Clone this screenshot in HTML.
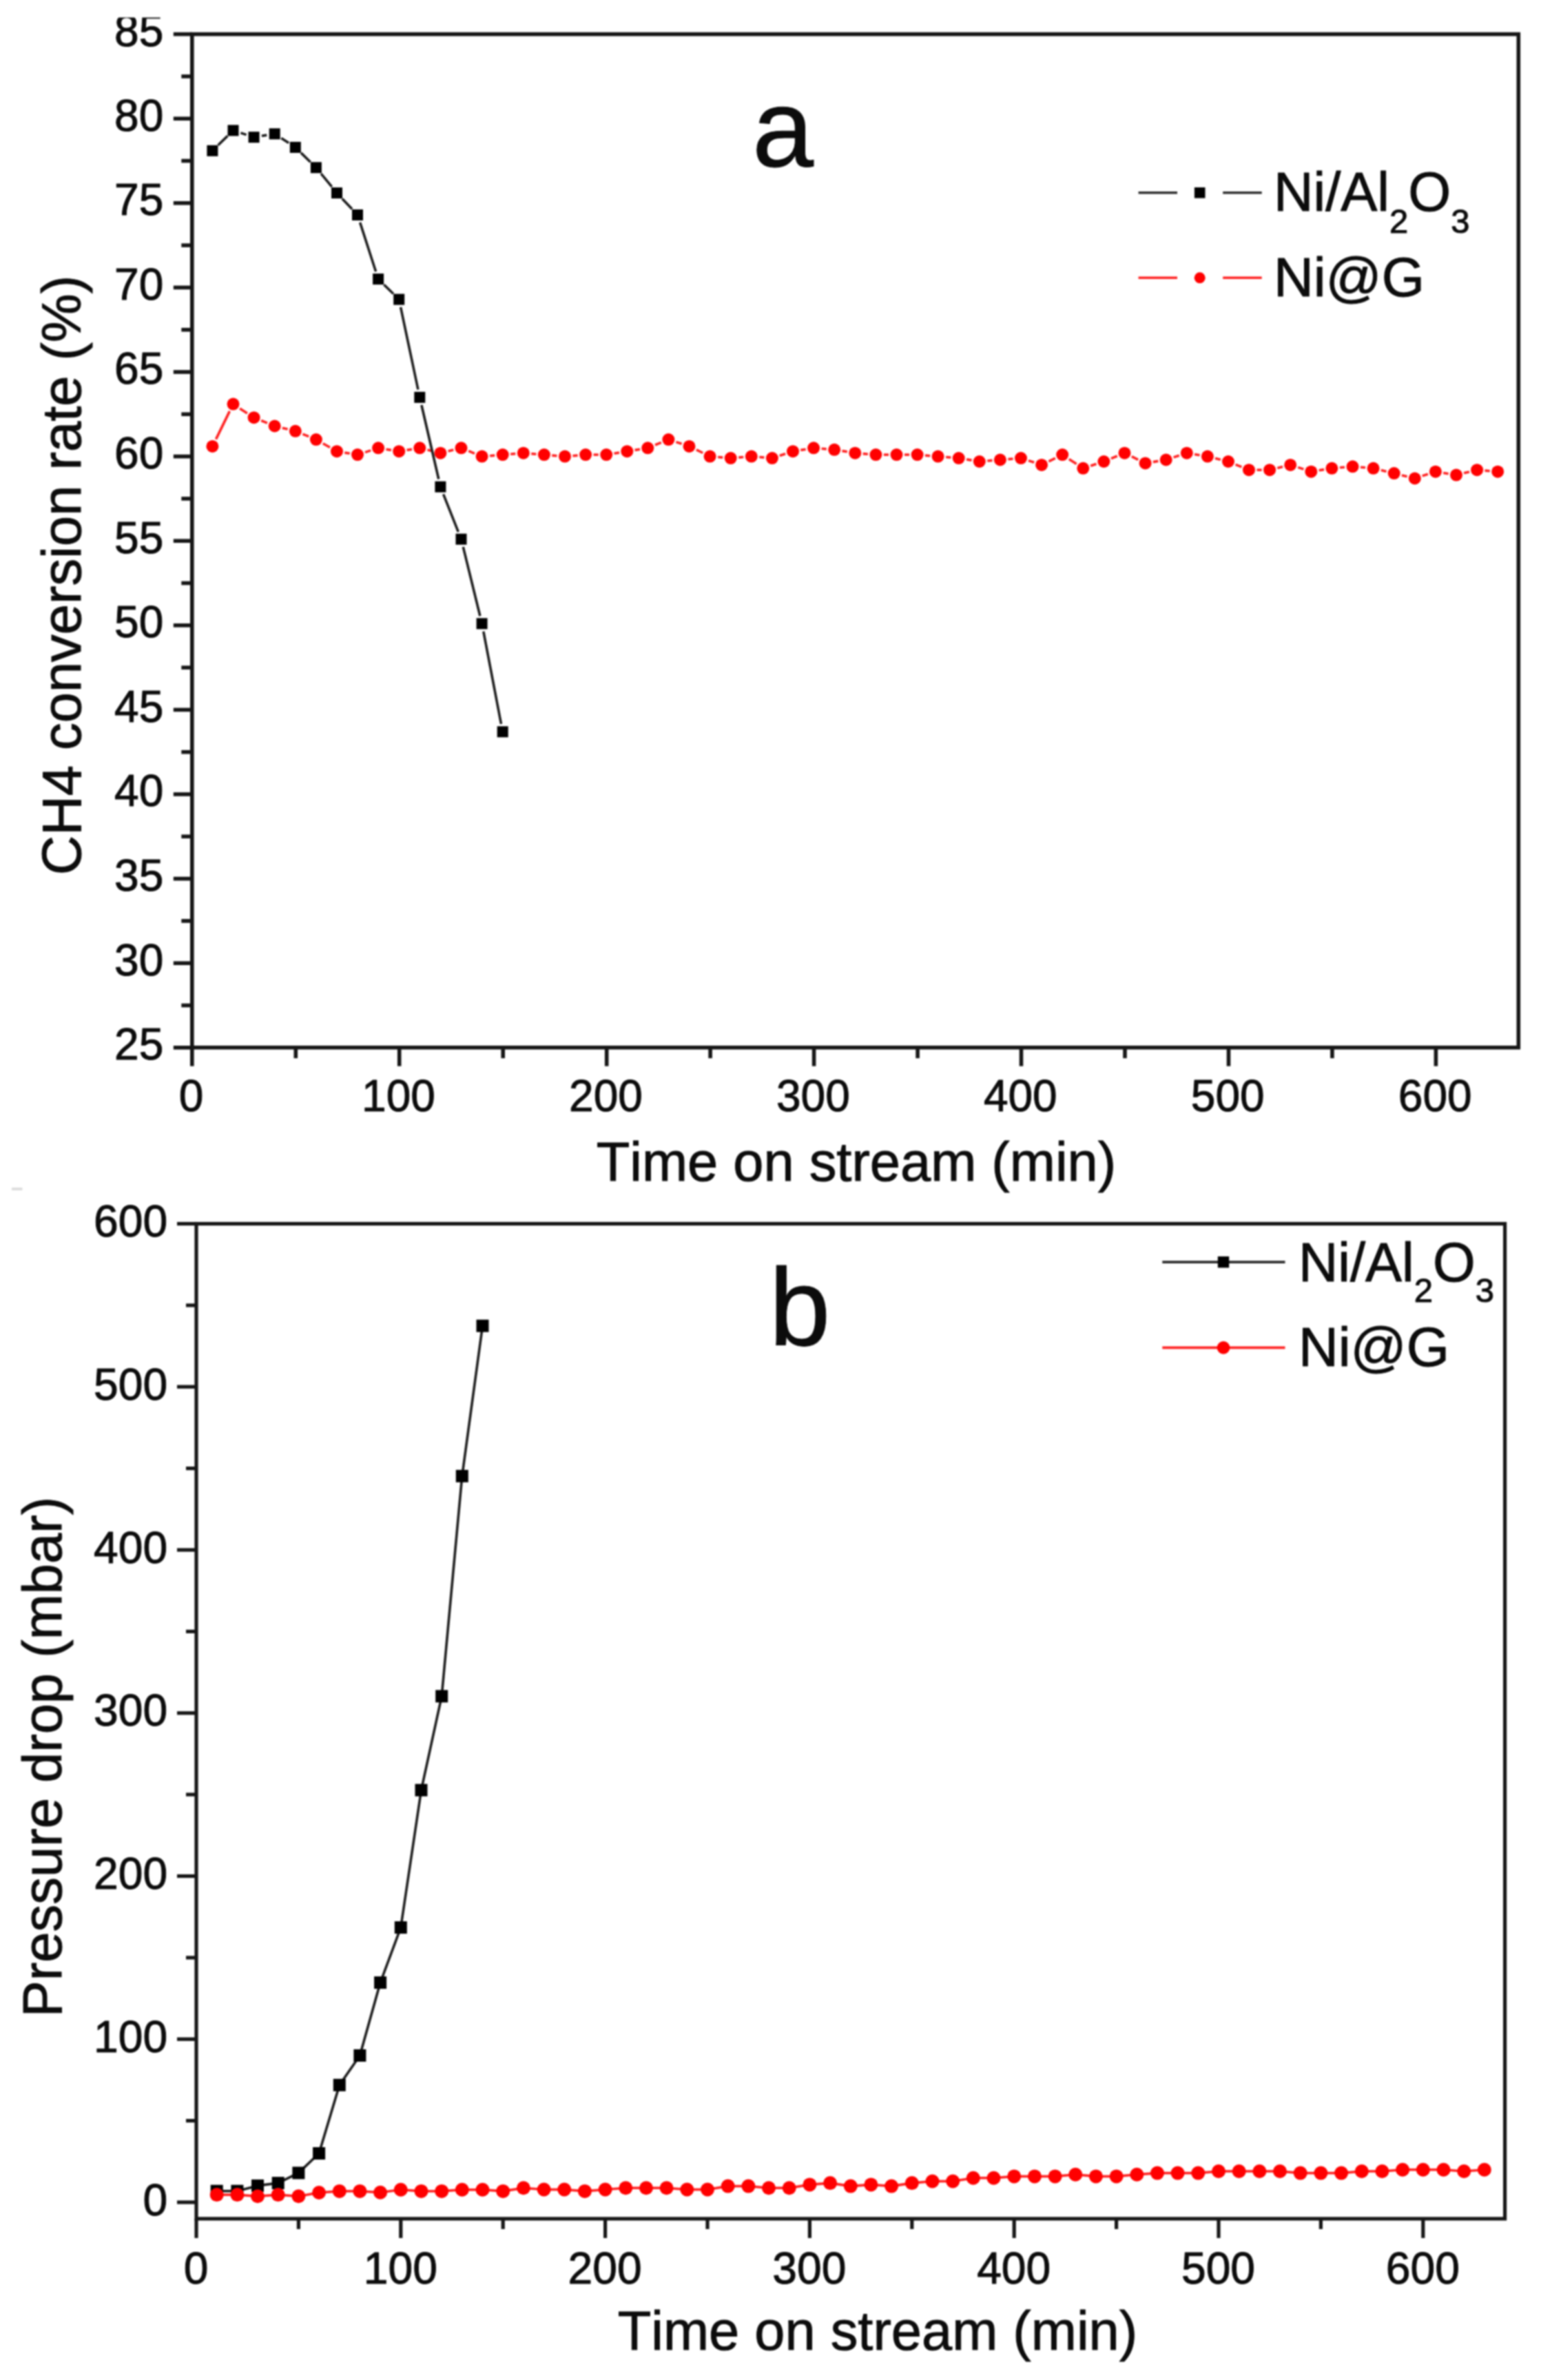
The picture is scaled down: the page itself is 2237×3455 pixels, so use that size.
<!DOCTYPE html>
<html lang="en">
<head>
<meta charset="utf-8">
<title>Catalyst stability: CH4 conversion and pressure drop</title>
<style>
html,body{margin:0;padding:0;background:#ffffff;}
body{width:2237px;height:3455px;overflow:hidden;}
svg{display:block;filter:blur(1.1px);font-family:'Liberation Sans', Arial, sans-serif;fill:#0c0c0c;}
text{font-kerning:none;stroke:#0c0c0c;stroke-width:1px;stroke-linejoin:round;}
</style>
</head>
<body>
<svg width="2237" height="3455" viewBox="0 0 2237 3455">
<rect x="0" y="0" width="2237" height="3455" fill="#ffffff"/>
<g id="figure">
<rect x="278.8" y="49.6" width="1925.5" height="1471.1" fill="none" stroke="#161616" stroke-width="5.6"/>
<line x1="251.8" y1="1520.8" x2="278.8" y2="1520.8" stroke="#161616" stroke-width="5.6" />
<text x="237.3" y="1538.1" font-size="64" text-anchor="end" >25</text>
<line x1="263.3" y1="1459.5" x2="278.8" y2="1459.5" stroke="#161616" stroke-width="5.6" />
<line x1="251.8" y1="1398.2" x2="278.8" y2="1398.2" stroke="#161616" stroke-width="5.6" />
<text x="237.3" y="1415.5" font-size="64" text-anchor="end" >30</text>
<line x1="263.3" y1="1336.9" x2="278.8" y2="1336.9" stroke="#161616" stroke-width="5.6" />
<line x1="251.8" y1="1275.6" x2="278.8" y2="1275.6" stroke="#161616" stroke-width="5.6" />
<text x="237.3" y="1292.9" font-size="64" text-anchor="end" >35</text>
<line x1="263.3" y1="1214.3" x2="278.8" y2="1214.3" stroke="#161616" stroke-width="5.6" />
<line x1="251.8" y1="1153.0" x2="278.8" y2="1153.0" stroke="#161616" stroke-width="5.6" />
<text x="237.3" y="1170.3" font-size="64" text-anchor="end" >40</text>
<line x1="263.3" y1="1091.7" x2="278.8" y2="1091.7" stroke="#161616" stroke-width="5.6" />
<line x1="251.8" y1="1030.4" x2="278.8" y2="1030.4" stroke="#161616" stroke-width="5.6" />
<text x="237.3" y="1047.7" font-size="64" text-anchor="end" >45</text>
<line x1="263.3" y1="969.1" x2="278.8" y2="969.1" stroke="#161616" stroke-width="5.6" />
<line x1="251.8" y1="907.8" x2="278.8" y2="907.8" stroke="#161616" stroke-width="5.6" />
<text x="237.3" y="925.1" font-size="64" text-anchor="end" >50</text>
<line x1="263.3" y1="846.5" x2="278.8" y2="846.5" stroke="#161616" stroke-width="5.6" />
<line x1="251.8" y1="785.2" x2="278.8" y2="785.2" stroke="#161616" stroke-width="5.6" />
<text x="237.3" y="802.5" font-size="64" text-anchor="end" >55</text>
<line x1="263.3" y1="723.9" x2="278.8" y2="723.9" stroke="#161616" stroke-width="5.6" />
<line x1="251.8" y1="662.6" x2="278.8" y2="662.6" stroke="#161616" stroke-width="5.6" />
<text x="237.3" y="679.9" font-size="64" text-anchor="end" >60</text>
<line x1="263.3" y1="601.3" x2="278.8" y2="601.3" stroke="#161616" stroke-width="5.6" />
<line x1="251.8" y1="540.0" x2="278.8" y2="540.0" stroke="#161616" stroke-width="5.6" />
<text x="237.3" y="557.3" font-size="64" text-anchor="end" >65</text>
<line x1="263.3" y1="478.7" x2="278.8" y2="478.7" stroke="#161616" stroke-width="5.6" />
<line x1="251.8" y1="417.4" x2="278.8" y2="417.4" stroke="#161616" stroke-width="5.6" />
<text x="237.3" y="434.7" font-size="64" text-anchor="end" >70</text>
<line x1="263.3" y1="356.1" x2="278.8" y2="356.1" stroke="#161616" stroke-width="5.6" />
<line x1="251.8" y1="294.8" x2="278.8" y2="294.8" stroke="#161616" stroke-width="5.6" />
<text x="237.3" y="312.1" font-size="64" text-anchor="end" >75</text>
<line x1="263.3" y1="233.5" x2="278.8" y2="233.5" stroke="#161616" stroke-width="5.6" />
<line x1="251.8" y1="172.2" x2="278.8" y2="172.2" stroke="#161616" stroke-width="5.6" />
<text x="237.3" y="189.5" font-size="64" text-anchor="end" >80</text>
<line x1="263.3" y1="110.9" x2="278.8" y2="110.9" stroke="#161616" stroke-width="5.6" />
<line x1="251.8" y1="49.6" x2="278.8" y2="49.6" stroke="#161616" stroke-width="5.6" />
<text x="237.3" y="66.9" font-size="64" text-anchor="end" >85</text>
<line x1="278.8" y1="1520.7" x2="278.8" y2="1547.7" stroke="#161616" stroke-width="5.6" />
<text x="277.6" y="1613.0" font-size="64" text-anchor="middle" >0</text>
<line x1="429.3" y1="1520.7" x2="429.3" y2="1536.2" stroke="#161616" stroke-width="5.6" />
<line x1="579.7" y1="1520.7" x2="579.7" y2="1547.7" stroke="#161616" stroke-width="5.6" />
<text x="578.5" y="1613.0" font-size="64" text-anchor="middle" >100</text>
<line x1="730.2" y1="1520.7" x2="730.2" y2="1536.2" stroke="#161616" stroke-width="5.6" />
<line x1="880.7" y1="1520.7" x2="880.7" y2="1547.7" stroke="#161616" stroke-width="5.6" />
<text x="879.5" y="1613.0" font-size="64" text-anchor="middle" >200</text>
<line x1="1031.1" y1="1520.7" x2="1031.1" y2="1536.2" stroke="#161616" stroke-width="5.6" />
<line x1="1181.6" y1="1520.7" x2="1181.6" y2="1547.7" stroke="#161616" stroke-width="5.6" />
<text x="1180.4" y="1613.0" font-size="64" text-anchor="middle" >300</text>
<line x1="1332.1" y1="1520.7" x2="1332.1" y2="1536.2" stroke="#161616" stroke-width="5.6" />
<line x1="1482.5" y1="1520.7" x2="1482.5" y2="1547.7" stroke="#161616" stroke-width="5.6" />
<text x="1481.3" y="1613.0" font-size="64" text-anchor="middle" >400</text>
<line x1="1633.0" y1="1520.7" x2="1633.0" y2="1536.2" stroke="#161616" stroke-width="5.6" />
<line x1="1783.5" y1="1520.7" x2="1783.5" y2="1547.7" stroke="#161616" stroke-width="5.6" />
<text x="1782.2" y="1613.0" font-size="64" text-anchor="middle" >500</text>
<line x1="1933.9" y1="1520.7" x2="1933.9" y2="1536.2" stroke="#161616" stroke-width="5.6" />
<line x1="2084.4" y1="1520.7" x2="2084.4" y2="1547.7" stroke="#161616" stroke-width="5.6" />
<text x="2083.2" y="1613.0" font-size="64" text-anchor="middle" >600</text>
<rect x="140" y="0" width="105" height="25.4" fill="#ffffff"/>
<text x="1243.0" y="1714.0" font-size="79.4" text-anchor="middle" >Time on stream (min)</text>
<text transform="translate(116.8,835) rotate(-90)" font-size="79.5" text-anchor="middle">CH4 conversion rate (%)</text>
<text x="1136.5" y="240.5" font-size="160" text-anchor="middle" >a</text>
<line x1="313.5" y1="637.6" x2="333.4" y2="596.9" stroke="#ff2020" stroke-width="3.6" />
<line x1="348.1" y1="592.9" x2="358.9" y2="599.9" stroke="#ff2020" stroke-width="3.6" />
<line x1="379.2" y1="610.5" x2="388.0" y2="614.1" stroke="#ff2020" stroke-width="3.6" />
<line x1="409.8" y1="621.2" x2="417.6" y2="623.1" stroke="#ff2020" stroke-width="3.6" />
<line x1="439.4" y1="630.2" x2="448.2" y2="633.7" stroke="#ff2020" stroke-width="3.6" />
<line x1="468.8" y1="643.8" x2="479.0" y2="649.5" stroke="#ff2020" stroke-width="3.6" />
<line x1="500.3" y1="657.1" x2="507.7" y2="658.3" stroke="#ff2020" stroke-width="3.6" />
<line x1="530.0" y1="656.6" x2="538.2" y2="653.9" stroke="#ff2020" stroke-width="3.6" />
<line x1="560.5" y1="652.2" x2="567.9" y2="653.4" stroke="#ff2020" stroke-width="3.6" />
<line x1="590.6" y1="653.4" x2="598.0" y2="652.2" stroke="#ff2020" stroke-width="3.6" />
<line x1="620.5" y1="653.1" x2="628.2" y2="655.0" stroke="#ff2020" stroke-width="3.6" />
<line x1="650.6" y1="655.0" x2="658.3" y2="653.1" stroke="#ff2020" stroke-width="3.6" />
<line x1="680.2" y1="654.7" x2="689.0" y2="658.3" stroke="#ff2020" stroke-width="3.6" />
<line x1="711.1" y1="661.7" x2="718.2" y2="661.1" stroke="#ff2020" stroke-width="3.6" />
<line x1="741.2" y1="659.2" x2="748.3" y2="658.6" stroke="#ff2020" stroke-width="3.6" />
<line x1="771.3" y1="658.6" x2="778.4" y2="659.2" stroke="#ff2020" stroke-width="3.6" />
<line x1="801.3" y1="661.1" x2="808.5" y2="661.7" stroke="#ff2020" stroke-width="3.6" />
<line x1="831.4" y1="661.7" x2="838.6" y2="661.1" stroke="#ff2020" stroke-width="3.6" />
<line x1="861.6" y1="660.1" x2="868.7" y2="660.1" stroke="#ff2020" stroke-width="3.6" />
<line x1="891.5" y1="658.3" x2="898.9" y2="657.1" stroke="#ff2020" stroke-width="3.6" />
<line x1="921.6" y1="653.4" x2="929.0" y2="652.2" stroke="#ff2020" stroke-width="3.6" />
<line x1="951.0" y1="646.0" x2="959.8" y2="642.4" stroke="#ff2020" stroke-width="3.6" />
<line x1="981.4" y1="641.6" x2="989.6" y2="644.3" stroke="#ff2020" stroke-width="3.6" />
<line x1="1010.9" y1="652.9" x2="1020.3" y2="657.5" stroke="#ff2020" stroke-width="3.6" />
<line x1="1042.1" y1="663.5" x2="1049.3" y2="664.1" stroke="#ff2020" stroke-width="3.6" />
<line x1="1072.2" y1="664.1" x2="1079.3" y2="663.5" stroke="#ff2020" stroke-width="3.6" />
<line x1="1102.3" y1="663.5" x2="1109.4" y2="664.1" stroke="#ff2020" stroke-width="3.6" />
<line x1="1131.8" y1="661.5" x2="1140.1" y2="658.8" stroke="#ff2020" stroke-width="3.6" />
<line x1="1162.3" y1="653.4" x2="1169.7" y2="652.2" stroke="#ff2020" stroke-width="3.6" />
<line x1="1192.6" y1="651.3" x2="1199.7" y2="651.9" stroke="#ff2020" stroke-width="3.6" />
<line x1="1222.5" y1="654.6" x2="1229.9" y2="655.8" stroke="#ff2020" stroke-width="3.6" />
<line x1="1252.7" y1="658.6" x2="1259.9" y2="659.2" stroke="#ff2020" stroke-width="3.6" />
<line x1="1282.9" y1="660.1" x2="1290.0" y2="660.1" stroke="#ff2020" stroke-width="3.6" />
<line x1="1313.0" y1="660.1" x2="1320.1" y2="660.1" stroke="#ff2020" stroke-width="3.6" />
<line x1="1343.0" y1="661.1" x2="1350.2" y2="661.7" stroke="#ff2020" stroke-width="3.6" />
<line x1="1373.1" y1="663.5" x2="1380.3" y2="664.1" stroke="#ff2020" stroke-width="3.6" />
<line x1="1403.1" y1="666.9" x2="1410.5" y2="668.1" stroke="#ff2020" stroke-width="3.6" />
<line x1="1433.3" y1="669.0" x2="1440.5" y2="668.4" stroke="#ff2020" stroke-width="3.6" />
<line x1="1463.4" y1="666.6" x2="1470.6" y2="666.0" stroke="#ff2020" stroke-width="3.6" />
<line x1="1493.0" y1="668.6" x2="1501.2" y2="671.3" stroke="#ff2020" stroke-width="3.6" />
<line x1="1522.4" y1="669.8" x2="1531.9" y2="665.2" stroke="#ff2020" stroke-width="3.6" />
<line x1="1551.8" y1="666.4" x2="1562.7" y2="673.5" stroke="#ff2020" stroke-width="3.6" />
<line x1="1583.2" y1="676.2" x2="1591.5" y2="673.5" stroke="#ff2020" stroke-width="3.6" />
<line x1="1613.0" y1="665.6" x2="1621.8" y2="662.0" stroke="#ff2020" stroke-width="3.6" />
<line x1="1642.8" y1="662.7" x2="1652.2" y2="667.4" stroke="#ff2020" stroke-width="3.6" />
<line x1="1673.9" y1="670.6" x2="1681.3" y2="669.4" stroke="#ff2020" stroke-width="3.6" />
<line x1="1703.6" y1="663.9" x2="1711.8" y2="661.3" stroke="#ff2020" stroke-width="3.6" />
<line x1="1734.1" y1="659.5" x2="1741.5" y2="660.8" stroke="#ff2020" stroke-width="3.6" />
<line x1="1764.0" y1="665.3" x2="1771.8" y2="667.2" stroke="#ff2020" stroke-width="3.6" />
<line x1="1793.6" y1="674.3" x2="1802.4" y2="677.9" stroke="#ff2020" stroke-width="3.6" />
<line x1="1824.5" y1="682.2" x2="1831.6" y2="682.2" stroke="#ff2020" stroke-width="3.6" />
<line x1="1854.3" y1="679.5" x2="1862.1" y2="677.6" stroke="#ff2020" stroke-width="3.6" />
<line x1="1884.2" y1="678.4" x2="1892.4" y2="681.1" stroke="#ff2020" stroke-width="3.6" />
<line x1="1914.7" y1="682.8" x2="1922.1" y2="681.6" stroke="#ff2020" stroke-width="3.6" />
<line x1="1944.9" y1="678.8" x2="1952.0" y2="678.2" stroke="#ff2020" stroke-width="3.6" />
<line x1="1975.0" y1="678.2" x2="1982.1" y2="678.8" stroke="#ff2020" stroke-width="3.6" />
<line x1="2004.8" y1="682.5" x2="2012.5" y2="684.4" stroke="#ff2020" stroke-width="3.6" />
<line x1="2034.9" y1="689.9" x2="2042.6" y2="691.7" stroke="#ff2020" stroke-width="3.6" />
<line x1="2064.7" y1="690.9" x2="2072.9" y2="688.2" stroke="#ff2020" stroke-width="3.6" />
<line x1="2095.2" y1="686.5" x2="2102.6" y2="687.7" stroke="#ff2020" stroke-width="3.6" />
<line x1="2125.1" y1="686.8" x2="2132.9" y2="684.9" stroke="#ff2020" stroke-width="3.6" />
<line x1="2155.5" y1="683.1" x2="2162.7" y2="683.7" stroke="#ff2020" stroke-width="3.6" />
<circle cx="308.4" cy="647.9" r="9.0" fill="#ff0000"/>
<circle cx="338.5" cy="586.6" r="9.0" fill="#ff0000"/>
<circle cx="368.6" cy="606.2" r="9.0" fill="#ff0000"/>
<circle cx="398.7" cy="618.5" r="9.0" fill="#ff0000"/>
<circle cx="428.8" cy="625.8" r="9.0" fill="#ff0000"/>
<circle cx="458.9" cy="638.1" r="9.0" fill="#ff0000"/>
<circle cx="489.0" cy="655.2" r="9.0" fill="#ff0000"/>
<circle cx="519.0" cy="660.1" r="9.0" fill="#ff0000"/>
<circle cx="549.1" cy="650.3" r="9.0" fill="#ff0000"/>
<circle cx="579.2" cy="655.2" r="9.0" fill="#ff0000"/>
<circle cx="609.3" cy="650.3" r="9.0" fill="#ff0000"/>
<circle cx="639.4" cy="657.7" r="9.0" fill="#ff0000"/>
<circle cx="669.5" cy="650.3" r="9.0" fill="#ff0000"/>
<circle cx="699.6" cy="662.6" r="9.0" fill="#ff0000"/>
<circle cx="729.7" cy="660.1" r="9.0" fill="#ff0000"/>
<circle cx="759.8" cy="657.7" r="9.0" fill="#ff0000"/>
<circle cx="789.9" cy="660.1" r="9.0" fill="#ff0000"/>
<circle cx="820.0" cy="662.6" r="9.0" fill="#ff0000"/>
<circle cx="850.1" cy="660.1" r="9.0" fill="#ff0000"/>
<circle cx="880.2" cy="660.1" r="9.0" fill="#ff0000"/>
<circle cx="910.3" cy="655.2" r="9.0" fill="#ff0000"/>
<circle cx="940.3" cy="650.3" r="9.0" fill="#ff0000"/>
<circle cx="970.4" cy="638.1" r="9.0" fill="#ff0000"/>
<circle cx="1000.5" cy="647.9" r="9.0" fill="#ff0000"/>
<circle cx="1030.6" cy="662.6" r="9.0" fill="#ff0000"/>
<circle cx="1060.7" cy="665.1" r="9.0" fill="#ff0000"/>
<circle cx="1090.8" cy="662.6" r="9.0" fill="#ff0000"/>
<circle cx="1120.9" cy="665.1" r="9.0" fill="#ff0000"/>
<circle cx="1151.0" cy="655.2" r="9.0" fill="#ff0000"/>
<circle cx="1181.1" cy="650.3" r="9.0" fill="#ff0000"/>
<circle cx="1211.2" cy="652.8" r="9.0" fill="#ff0000"/>
<circle cx="1241.3" cy="657.7" r="9.0" fill="#ff0000"/>
<circle cx="1271.4" cy="660.1" r="9.0" fill="#ff0000"/>
<circle cx="1301.5" cy="660.1" r="9.0" fill="#ff0000"/>
<circle cx="1331.6" cy="660.1" r="9.0" fill="#ff0000"/>
<circle cx="1361.6" cy="662.6" r="9.0" fill="#ff0000"/>
<circle cx="1391.7" cy="665.1" r="9.0" fill="#ff0000"/>
<circle cx="1421.8" cy="670.0" r="9.0" fill="#ff0000"/>
<circle cx="1451.9" cy="667.5" r="9.0" fill="#ff0000"/>
<circle cx="1482.0" cy="665.1" r="9.0" fill="#ff0000"/>
<circle cx="1512.1" cy="674.9" r="9.0" fill="#ff0000"/>
<circle cx="1542.2" cy="660.1" r="9.0" fill="#ff0000"/>
<circle cx="1572.3" cy="679.8" r="9.0" fill="#ff0000"/>
<circle cx="1602.4" cy="670.0" r="9.0" fill="#ff0000"/>
<circle cx="1632.5" cy="657.7" r="9.0" fill="#ff0000"/>
<circle cx="1662.6" cy="672.4" r="9.0" fill="#ff0000"/>
<circle cx="1692.7" cy="667.5" r="9.0" fill="#ff0000"/>
<circle cx="1722.8" cy="657.7" r="9.0" fill="#ff0000"/>
<circle cx="1752.9" cy="662.6" r="9.0" fill="#ff0000"/>
<circle cx="1783.0" cy="670.0" r="9.0" fill="#ff0000"/>
<circle cx="1813.0" cy="682.2" r="9.0" fill="#ff0000"/>
<circle cx="1843.1" cy="682.2" r="9.0" fill="#ff0000"/>
<circle cx="1873.2" cy="674.9" r="9.0" fill="#ff0000"/>
<circle cx="1903.3" cy="684.7" r="9.0" fill="#ff0000"/>
<circle cx="1933.4" cy="679.8" r="9.0" fill="#ff0000"/>
<circle cx="1963.5" cy="677.3" r="9.0" fill="#ff0000"/>
<circle cx="1993.6" cy="679.8" r="9.0" fill="#ff0000"/>
<circle cx="2023.7" cy="687.1" r="9.0" fill="#ff0000"/>
<circle cx="2053.8" cy="694.5" r="9.0" fill="#ff0000"/>
<circle cx="2083.9" cy="684.7" r="9.0" fill="#ff0000"/>
<circle cx="2114.0" cy="689.6" r="9.0" fill="#ff0000"/>
<circle cx="2144.1" cy="682.2" r="9.0" fill="#ff0000"/>
<circle cx="2174.2" cy="684.7" r="9.0" fill="#ff0000"/>
<line x1="316.6" y1="210.7" x2="330.3" y2="197.4" stroke="#1c1c1c" stroke-width="3.6" />
<line x1="349.4" y1="192.9" x2="357.6" y2="195.6" stroke="#1c1c1c" stroke-width="3.6" />
<line x1="379.9" y1="197.3" x2="387.3" y2="196.1" stroke="#1c1c1c" stroke-width="3.6" />
<line x1="408.3" y1="200.5" x2="419.1" y2="207.6" stroke="#1c1c1c" stroke-width="3.6" />
<line x1="437.0" y1="221.9" x2="450.6" y2="235.3" stroke="#1c1c1c" stroke-width="3.6" />
<line x1="466.1" y1="252.2" x2="481.7" y2="271.2" stroke="#1c1c1c" stroke-width="3.6" />
<line x1="496.8" y1="288.5" x2="511.1" y2="303.6" stroke="#1c1c1c" stroke-width="3.6" />
<line x1="522.6" y1="322.9" x2="545.6" y2="394.2" stroke="#1c1c1c" stroke-width="3.6" />
<line x1="557.4" y1="413.2" x2="571.0" y2="426.5" stroke="#1c1c1c" stroke-width="3.6" />
<line x1="581.6" y1="445.8" x2="606.9" y2="565.5" stroke="#1c1c1c" stroke-width="3.6" />
<line x1="611.9" y1="588.0" x2="636.8" y2="695.5" stroke="#1c1c1c" stroke-width="3.6" />
<line x1="643.6" y1="717.4" x2="665.3" y2="772.1" stroke="#1c1c1c" stroke-width="3.6" />
<line x1="672.3" y1="793.9" x2="696.9" y2="894.2" stroke="#1c1c1c" stroke-width="3.6" />
<line x1="701.8" y1="916.6" x2="727.5" y2="1051.0" stroke="#1c1c1c" stroke-width="3.6" />
<rect x="300.4" y="210.8" width="16" height="16" fill="#000000"/>
<rect x="330.5" y="181.4" width="16" height="16" fill="#000000"/>
<rect x="360.6" y="191.2" width="16" height="16" fill="#000000"/>
<rect x="390.7" y="186.3" width="16" height="16" fill="#000000"/>
<rect x="420.8" y="205.9" width="16" height="16" fill="#000000"/>
<rect x="450.9" y="235.3" width="16" height="16" fill="#000000"/>
<rect x="481.0" y="272.1" width="16" height="16" fill="#000000"/>
<rect x="511.0" y="304.0" width="16" height="16" fill="#000000"/>
<rect x="541.1" y="397.1" width="16" height="16" fill="#000000"/>
<rect x="571.2" y="426.6" width="16" height="16" fill="#000000"/>
<rect x="601.3" y="568.8" width="16" height="16" fill="#000000"/>
<rect x="631.4" y="698.7" width="16" height="16" fill="#000000"/>
<rect x="661.5" y="774.7" width="16" height="16" fill="#000000"/>
<rect x="691.6" y="897.3" width="16" height="16" fill="#000000"/>
<rect x="721.7" y="1054.3" width="16" height="16" fill="#000000"/>
<line x1="1652.6" y1="279.8" x2="1709.0" y2="279.8" stroke="#2a2a2a" stroke-width="3.6" />
<line x1="1775.2" y1="279.8" x2="1831.7" y2="279.8" stroke="#2a2a2a" stroke-width="3.6" />
<rect x="1733.9" y="272" width="15.6" height="15.6" fill="#000"/>
<line x1="1652.6" y1="403.3" x2="1709.0" y2="403.3" stroke="#ff2020" stroke-width="3.6" />
<line x1="1775.2" y1="403.3" x2="1831.7" y2="403.3" stroke="#ff2020" stroke-width="3.6" />
<circle cx="1741.7" cy="403.3" r="8" fill="#ff0000"/>
<text x="1849.0" y="305.9" font-size="79.6" text-anchor="start">Ni/Al<tspan font-size="49" dy="32">2</tspan><tspan font-size="79.6" dy="-32">O</tspan><tspan font-size="49" dy="32">3</tspan></text>
<text x="1849.0" y="429.8" font-size="80" text-anchor="start" >Ni@G</text>
<rect x="285.0" y="1776.5" width="1899.6" height="1444.4" fill="none" stroke="#161616" stroke-width="5.2"/>
<line x1="257.0" y1="3197.0" x2="285.0" y2="3197.0" stroke="#161616" stroke-width="5.2" />
<text x="243.2" y="3215.6" font-size="64.2" text-anchor="end" >0</text>
<line x1="270.0" y1="3078.6" x2="285.0" y2="3078.6" stroke="#161616" stroke-width="5.2" />
<line x1="257.0" y1="2960.2" x2="285.0" y2="2960.2" stroke="#161616" stroke-width="5.2" />
<text x="243.2" y="2978.8" font-size="64.2" text-anchor="end" >100</text>
<line x1="270.0" y1="2841.9" x2="285.0" y2="2841.9" stroke="#161616" stroke-width="5.2" />
<line x1="257.0" y1="2723.5" x2="285.0" y2="2723.5" stroke="#161616" stroke-width="5.2" />
<text x="243.2" y="2742.1" font-size="64.2" text-anchor="end" >200</text>
<line x1="270.0" y1="2605.1" x2="285.0" y2="2605.1" stroke="#161616" stroke-width="5.2" />
<line x1="257.0" y1="2486.8" x2="285.0" y2="2486.8" stroke="#161616" stroke-width="5.2" />
<text x="243.2" y="2505.3" font-size="64.2" text-anchor="end" >300</text>
<line x1="270.0" y1="2368.4" x2="285.0" y2="2368.4" stroke="#161616" stroke-width="5.2" />
<line x1="257.0" y1="2250.0" x2="285.0" y2="2250.0" stroke="#161616" stroke-width="5.2" />
<text x="243.2" y="2268.6" font-size="64.2" text-anchor="end" >400</text>
<line x1="270.0" y1="2131.6" x2="285.0" y2="2131.6" stroke="#161616" stroke-width="5.2" />
<line x1="257.0" y1="2013.2" x2="285.0" y2="2013.2" stroke="#161616" stroke-width="5.2" />
<text x="243.2" y="2031.8" font-size="64.2" text-anchor="end" >500</text>
<line x1="270.0" y1="1894.9" x2="285.0" y2="1894.9" stroke="#161616" stroke-width="5.2" />
<line x1="257.0" y1="1776.5" x2="285.0" y2="1776.5" stroke="#161616" stroke-width="5.2" />
<text x="243.2" y="1795.1" font-size="64.2" text-anchor="end" >600</text>
<line x1="285.0" y1="3220.9" x2="285.0" y2="3248.9" stroke="#161616" stroke-width="5.2" />
<text x="284.5" y="3314.6" font-size="64.2" text-anchor="middle" >0</text>
<line x1="433.4" y1="3220.9" x2="433.4" y2="3235.9" stroke="#161616" stroke-width="5.2" />
<line x1="581.8" y1="3220.9" x2="581.8" y2="3248.9" stroke="#161616" stroke-width="5.2" />
<text x="581.3" y="3314.6" font-size="64.2" text-anchor="middle" >100</text>
<line x1="730.2" y1="3220.9" x2="730.2" y2="3235.9" stroke="#161616" stroke-width="5.2" />
<line x1="878.6" y1="3220.9" x2="878.6" y2="3248.9" stroke="#161616" stroke-width="5.2" />
<text x="878.1" y="3314.6" font-size="64.2" text-anchor="middle" >200</text>
<line x1="1027.0" y1="3220.9" x2="1027.0" y2="3235.9" stroke="#161616" stroke-width="5.2" />
<line x1="1175.4" y1="3220.9" x2="1175.4" y2="3248.9" stroke="#161616" stroke-width="5.2" />
<text x="1174.9" y="3314.6" font-size="64.2" text-anchor="middle" >300</text>
<line x1="1323.8" y1="3220.9" x2="1323.8" y2="3235.9" stroke="#161616" stroke-width="5.2" />
<line x1="1472.2" y1="3220.9" x2="1472.2" y2="3248.9" stroke="#161616" stroke-width="5.2" />
<text x="1471.7" y="3314.6" font-size="64.2" text-anchor="middle" >400</text>
<line x1="1620.6" y1="3220.9" x2="1620.6" y2="3235.9" stroke="#161616" stroke-width="5.2" />
<line x1="1769.0" y1="3220.9" x2="1769.0" y2="3248.9" stroke="#161616" stroke-width="5.2" />
<text x="1768.5" y="3314.6" font-size="64.2" text-anchor="middle" >500</text>
<line x1="1917.4" y1="3220.9" x2="1917.4" y2="3235.9" stroke="#161616" stroke-width="5.2" />
<line x1="2065.8" y1="3220.9" x2="2065.8" y2="3248.9" stroke="#161616" stroke-width="5.2" />
<text x="2065.3" y="3314.6" font-size="64.2" text-anchor="middle" >600</text>
<text x="1274.0" y="3411.0" font-size="79.4" text-anchor="middle" >Time on stream (min)</text>
<text transform="translate(89,2550.5) rotate(-90)" font-size="79.5" text-anchor="middle">Pressure drop (mbar)</text>
<text x="1161.0" y="1953.0" font-size="160" text-anchor="middle" >b</text>
<line x1="314.7" y1="3180.7" x2="344.4" y2="3180.7" stroke="#1c1c1c" stroke-width="3.6" />
<line x1="344.4" y1="3180.7" x2="374.0" y2="3172.9" stroke="#1c1c1c" stroke-width="3.6" />
<line x1="374.0" y1="3172.9" x2="403.7" y2="3169.1" stroke="#1c1c1c" stroke-width="3.6" />
<line x1="403.7" y1="3169.1" x2="433.4" y2="3154.4" stroke="#1c1c1c" stroke-width="3.6" />
<line x1="433.4" y1="3154.4" x2="463.1" y2="3126.0" stroke="#1c1c1c" stroke-width="3.6" />
<line x1="463.1" y1="3126.0" x2="492.8" y2="3026.8" stroke="#1c1c1c" stroke-width="3.6" />
<line x1="492.8" y1="3026.8" x2="522.4" y2="2983.9" stroke="#1c1c1c" stroke-width="3.6" />
<line x1="522.4" y1="2983.9" x2="552.1" y2="2878.1" stroke="#1c1c1c" stroke-width="3.6" />
<line x1="552.1" y1="2878.1" x2="581.8" y2="2798.1" stroke="#1c1c1c" stroke-width="3.6" />
<line x1="581.8" y1="2798.1" x2="611.5" y2="2598.7" stroke="#1c1c1c" stroke-width="3.6" />
<line x1="611.5" y1="2598.7" x2="641.2" y2="2462.4" stroke="#1c1c1c" stroke-width="3.6" />
<line x1="641.2" y1="2462.4" x2="670.8" y2="2142.8" stroke="#1c1c1c" stroke-width="3.6" />
<line x1="670.8" y1="2142.8" x2="700.5" y2="1924.7" stroke="#1c1c1c" stroke-width="3.6" />
<rect x="305.7" y="3171.7" width="18" height="18" fill="#000000"/>
<rect x="335.4" y="3171.7" width="18" height="18" fill="#000000"/>
<rect x="365.0" y="3163.9" width="18" height="18" fill="#000000"/>
<rect x="394.7" y="3160.1" width="18" height="18" fill="#000000"/>
<rect x="424.4" y="3145.4" width="18" height="18" fill="#000000"/>
<rect x="454.1" y="3117.0" width="18" height="18" fill="#000000"/>
<rect x="483.8" y="3017.8" width="18" height="18" fill="#000000"/>
<rect x="513.4" y="2974.9" width="18" height="18" fill="#000000"/>
<rect x="543.1" y="2869.1" width="18" height="18" fill="#000000"/>
<rect x="572.8" y="2789.1" width="18" height="18" fill="#000000"/>
<rect x="602.5" y="2589.7" width="18" height="18" fill="#000000"/>
<rect x="632.2" y="2453.4" width="18" height="18" fill="#000000"/>
<rect x="661.8" y="2133.8" width="18" height="18" fill="#000000"/>
<rect x="691.5" y="1915.7" width="18" height="18" fill="#000000"/>
<line x1="314.7" y1="3186.1" x2="344.4" y2="3186.1" stroke="#ff2020" stroke-width="3.6" />
<line x1="344.4" y1="3186.1" x2="374.0" y2="3188.2" stroke="#ff2020" stroke-width="3.6" />
<line x1="374.0" y1="3188.2" x2="403.7" y2="3186.1" stroke="#ff2020" stroke-width="3.6" />
<line x1="403.7" y1="3186.1" x2="433.4" y2="3188.2" stroke="#ff2020" stroke-width="3.6" />
<line x1="433.4" y1="3188.2" x2="463.1" y2="3183.0" stroke="#ff2020" stroke-width="3.6" />
<line x1="463.1" y1="3183.0" x2="492.8" y2="3180.9" stroke="#ff2020" stroke-width="3.6" />
<line x1="492.8" y1="3180.9" x2="522.4" y2="3180.9" stroke="#ff2020" stroke-width="3.6" />
<line x1="522.4" y1="3180.9" x2="552.1" y2="3182.8" stroke="#ff2020" stroke-width="3.6" />
<line x1="552.1" y1="3182.8" x2="581.8" y2="3178.8" stroke="#ff2020" stroke-width="3.6" />
<line x1="581.8" y1="3178.8" x2="611.5" y2="3180.9" stroke="#ff2020" stroke-width="3.6" />
<line x1="611.5" y1="3180.9" x2="641.2" y2="3180.9" stroke="#ff2020" stroke-width="3.6" />
<line x1="641.2" y1="3180.9" x2="670.8" y2="3178.8" stroke="#ff2020" stroke-width="3.6" />
<line x1="670.8" y1="3178.8" x2="700.5" y2="3178.8" stroke="#ff2020" stroke-width="3.6" />
<line x1="700.5" y1="3178.8" x2="730.2" y2="3180.9" stroke="#ff2020" stroke-width="3.6" />
<line x1="730.2" y1="3180.9" x2="759.9" y2="3176.2" stroke="#ff2020" stroke-width="3.6" />
<line x1="759.9" y1="3176.2" x2="789.6" y2="3178.5" stroke="#ff2020" stroke-width="3.6" />
<line x1="789.6" y1="3178.5" x2="819.2" y2="3178.5" stroke="#ff2020" stroke-width="3.6" />
<line x1="819.2" y1="3178.5" x2="848.9" y2="3180.9" stroke="#ff2020" stroke-width="3.6" />
<line x1="848.9" y1="3180.9" x2="878.6" y2="3178.5" stroke="#ff2020" stroke-width="3.6" />
<line x1="878.6" y1="3178.5" x2="908.3" y2="3176.2" stroke="#ff2020" stroke-width="3.6" />
<line x1="908.3" y1="3176.2" x2="938.0" y2="3176.2" stroke="#ff2020" stroke-width="3.6" />
<line x1="938.0" y1="3176.2" x2="967.6" y2="3176.2" stroke="#ff2020" stroke-width="3.6" />
<line x1="967.6" y1="3176.2" x2="997.3" y2="3178.5" stroke="#ff2020" stroke-width="3.6" />
<line x1="997.3" y1="3178.5" x2="1027.0" y2="3178.5" stroke="#ff2020" stroke-width="3.6" />
<line x1="1027.0" y1="3178.5" x2="1056.7" y2="3173.6" stroke="#ff2020" stroke-width="3.6" />
<line x1="1056.7" y1="3173.6" x2="1086.4" y2="3173.6" stroke="#ff2020" stroke-width="3.6" />
<line x1="1086.4" y1="3173.6" x2="1116.0" y2="3176.2" stroke="#ff2020" stroke-width="3.6" />
<line x1="1116.0" y1="3176.2" x2="1145.7" y2="3176.2" stroke="#ff2020" stroke-width="3.6" />
<line x1="1145.7" y1="3176.2" x2="1175.4" y2="3171.4" stroke="#ff2020" stroke-width="3.6" />
<line x1="1175.4" y1="3171.4" x2="1205.1" y2="3169.1" stroke="#ff2020" stroke-width="3.6" />
<line x1="1205.1" y1="3169.1" x2="1234.8" y2="3173.6" stroke="#ff2020" stroke-width="3.6" />
<line x1="1234.8" y1="3173.6" x2="1264.4" y2="3171.4" stroke="#ff2020" stroke-width="3.6" />
<line x1="1264.4" y1="3171.4" x2="1294.1" y2="3173.6" stroke="#ff2020" stroke-width="3.6" />
<line x1="1294.1" y1="3173.6" x2="1323.8" y2="3169.1" stroke="#ff2020" stroke-width="3.6" />
<line x1="1323.8" y1="3169.1" x2="1353.5" y2="3166.5" stroke="#ff2020" stroke-width="3.6" />
<line x1="1353.5" y1="3166.5" x2="1383.2" y2="3166.5" stroke="#ff2020" stroke-width="3.6" />
<line x1="1383.2" y1="3166.5" x2="1412.8" y2="3161.7" stroke="#ff2020" stroke-width="3.6" />
<line x1="1412.8" y1="3161.7" x2="1442.5" y2="3161.7" stroke="#ff2020" stroke-width="3.6" />
<line x1="1442.5" y1="3161.7" x2="1472.2" y2="3159.4" stroke="#ff2020" stroke-width="3.6" />
<line x1="1472.2" y1="3159.4" x2="1501.9" y2="3159.4" stroke="#ff2020" stroke-width="3.6" />
<line x1="1501.9" y1="3159.4" x2="1531.6" y2="3159.4" stroke="#ff2020" stroke-width="3.6" />
<line x1="1531.6" y1="3159.4" x2="1561.2" y2="3156.8" stroke="#ff2020" stroke-width="3.6" />
<line x1="1561.2" y1="3156.8" x2="1590.9" y2="3159.4" stroke="#ff2020" stroke-width="3.6" />
<line x1="1590.9" y1="3159.4" x2="1620.6" y2="3159.4" stroke="#ff2020" stroke-width="3.6" />
<line x1="1620.6" y1="3159.4" x2="1650.3" y2="3156.8" stroke="#ff2020" stroke-width="3.6" />
<line x1="1650.3" y1="3156.8" x2="1680.0" y2="3154.6" stroke="#ff2020" stroke-width="3.6" />
<line x1="1680.0" y1="3154.6" x2="1709.6" y2="3154.6" stroke="#ff2020" stroke-width="3.6" />
<line x1="1709.6" y1="3154.6" x2="1739.3" y2="3154.6" stroke="#ff2020" stroke-width="3.6" />
<line x1="1739.3" y1="3154.6" x2="1769.0" y2="3152.0" stroke="#ff2020" stroke-width="3.6" />
<line x1="1769.0" y1="3152.0" x2="1798.7" y2="3152.0" stroke="#ff2020" stroke-width="3.6" />
<line x1="1798.7" y1="3152.0" x2="1828.4" y2="3152.0" stroke="#ff2020" stroke-width="3.6" />
<line x1="1828.4" y1="3152.0" x2="1858.0" y2="3152.0" stroke="#ff2020" stroke-width="3.6" />
<line x1="1858.0" y1="3152.0" x2="1887.7" y2="3154.6" stroke="#ff2020" stroke-width="3.6" />
<line x1="1887.7" y1="3154.6" x2="1917.4" y2="3154.6" stroke="#ff2020" stroke-width="3.6" />
<line x1="1917.4" y1="3154.6" x2="1947.1" y2="3154.6" stroke="#ff2020" stroke-width="3.6" />
<line x1="1947.1" y1="3154.6" x2="1976.8" y2="3152.0" stroke="#ff2020" stroke-width="3.6" />
<line x1="1976.8" y1="3152.0" x2="2006.4" y2="3152.0" stroke="#ff2020" stroke-width="3.6" />
<line x1="2006.4" y1="3152.0" x2="2036.1" y2="3149.7" stroke="#ff2020" stroke-width="3.6" />
<line x1="2036.1" y1="3149.7" x2="2065.8" y2="3149.7" stroke="#ff2020" stroke-width="3.6" />
<line x1="2065.8" y1="3149.7" x2="2095.5" y2="3149.7" stroke="#ff2020" stroke-width="3.6" />
<line x1="2095.5" y1="3149.7" x2="2125.2" y2="3152.0" stroke="#ff2020" stroke-width="3.6" />
<line x1="2125.2" y1="3152.0" x2="2154.8" y2="3149.7" stroke="#ff2020" stroke-width="3.6" />
<circle cx="314.7" cy="3186.1" r="10.0" fill="#ff0000"/>
<circle cx="344.4" cy="3186.1" r="10.0" fill="#ff0000"/>
<circle cx="374.0" cy="3188.2" r="10.0" fill="#ff0000"/>
<circle cx="403.7" cy="3186.1" r="10.0" fill="#ff0000"/>
<circle cx="433.4" cy="3188.2" r="10.0" fill="#ff0000"/>
<circle cx="463.1" cy="3183.0" r="10.0" fill="#ff0000"/>
<circle cx="492.8" cy="3180.9" r="10.0" fill="#ff0000"/>
<circle cx="522.4" cy="3180.9" r="10.0" fill="#ff0000"/>
<circle cx="552.1" cy="3182.8" r="10.0" fill="#ff0000"/>
<circle cx="581.8" cy="3178.8" r="10.0" fill="#ff0000"/>
<circle cx="611.5" cy="3180.9" r="10.0" fill="#ff0000"/>
<circle cx="641.2" cy="3180.9" r="10.0" fill="#ff0000"/>
<circle cx="670.8" cy="3178.8" r="10.0" fill="#ff0000"/>
<circle cx="700.5" cy="3178.8" r="10.0" fill="#ff0000"/>
<circle cx="730.2" cy="3180.9" r="10.0" fill="#ff0000"/>
<circle cx="759.9" cy="3176.2" r="10.0" fill="#ff0000"/>
<circle cx="789.6" cy="3178.5" r="10.0" fill="#ff0000"/>
<circle cx="819.2" cy="3178.5" r="10.0" fill="#ff0000"/>
<circle cx="848.9" cy="3180.9" r="10.0" fill="#ff0000"/>
<circle cx="878.6" cy="3178.5" r="10.0" fill="#ff0000"/>
<circle cx="908.3" cy="3176.2" r="10.0" fill="#ff0000"/>
<circle cx="938.0" cy="3176.2" r="10.0" fill="#ff0000"/>
<circle cx="967.6" cy="3176.2" r="10.0" fill="#ff0000"/>
<circle cx="997.3" cy="3178.5" r="10.0" fill="#ff0000"/>
<circle cx="1027.0" cy="3178.5" r="10.0" fill="#ff0000"/>
<circle cx="1056.7" cy="3173.6" r="10.0" fill="#ff0000"/>
<circle cx="1086.4" cy="3173.6" r="10.0" fill="#ff0000"/>
<circle cx="1116.0" cy="3176.2" r="10.0" fill="#ff0000"/>
<circle cx="1145.7" cy="3176.2" r="10.0" fill="#ff0000"/>
<circle cx="1175.4" cy="3171.4" r="10.0" fill="#ff0000"/>
<circle cx="1205.1" cy="3169.1" r="10.0" fill="#ff0000"/>
<circle cx="1234.8" cy="3173.6" r="10.0" fill="#ff0000"/>
<circle cx="1264.4" cy="3171.4" r="10.0" fill="#ff0000"/>
<circle cx="1294.1" cy="3173.6" r="10.0" fill="#ff0000"/>
<circle cx="1323.8" cy="3169.1" r="10.0" fill="#ff0000"/>
<circle cx="1353.5" cy="3166.5" r="10.0" fill="#ff0000"/>
<circle cx="1383.2" cy="3166.5" r="10.0" fill="#ff0000"/>
<circle cx="1412.8" cy="3161.7" r="10.0" fill="#ff0000"/>
<circle cx="1442.5" cy="3161.7" r="10.0" fill="#ff0000"/>
<circle cx="1472.2" cy="3159.4" r="10.0" fill="#ff0000"/>
<circle cx="1501.9" cy="3159.4" r="10.0" fill="#ff0000"/>
<circle cx="1531.6" cy="3159.4" r="10.0" fill="#ff0000"/>
<circle cx="1561.2" cy="3156.8" r="10.0" fill="#ff0000"/>
<circle cx="1590.9" cy="3159.4" r="10.0" fill="#ff0000"/>
<circle cx="1620.6" cy="3159.4" r="10.0" fill="#ff0000"/>
<circle cx="1650.3" cy="3156.8" r="10.0" fill="#ff0000"/>
<circle cx="1680.0" cy="3154.6" r="10.0" fill="#ff0000"/>
<circle cx="1709.6" cy="3154.6" r="10.0" fill="#ff0000"/>
<circle cx="1739.3" cy="3154.6" r="10.0" fill="#ff0000"/>
<circle cx="1769.0" cy="3152.0" r="10.0" fill="#ff0000"/>
<circle cx="1798.7" cy="3152.0" r="10.0" fill="#ff0000"/>
<circle cx="1828.4" cy="3152.0" r="10.0" fill="#ff0000"/>
<circle cx="1858.0" cy="3152.0" r="10.0" fill="#ff0000"/>
<circle cx="1887.7" cy="3154.6" r="10.0" fill="#ff0000"/>
<circle cx="1917.4" cy="3154.6" r="10.0" fill="#ff0000"/>
<circle cx="1947.1" cy="3154.6" r="10.0" fill="#ff0000"/>
<circle cx="1976.8" cy="3152.0" r="10.0" fill="#ff0000"/>
<circle cx="2006.4" cy="3152.0" r="10.0" fill="#ff0000"/>
<circle cx="2036.1" cy="3149.7" r="10.0" fill="#ff0000"/>
<circle cx="2065.8" cy="3149.7" r="10.0" fill="#ff0000"/>
<circle cx="2095.5" cy="3149.7" r="10.0" fill="#ff0000"/>
<circle cx="2125.2" cy="3152.0" r="10.0" fill="#ff0000"/>
<circle cx="2154.8" cy="3149.7" r="10.0" fill="#ff0000"/>
<line x1="1687.3" y1="1832.1" x2="1865.5" y2="1832.1" stroke="#2a2a2a" stroke-width="3.6" />
<rect x="1767.8" y="1823.9" width="16.4" height="16.4" fill="#000"/>
<line x1="1687.3" y1="1956.4" x2="1865.5" y2="1956.4" stroke="#ff2020" stroke-width="3.6" />
<circle cx="1776" cy="1956.4" r="9.3" fill="#ff0000"/>
<text x="1885.0" y="1859.6" font-size="79.4" text-anchor="start">Ni/Al<tspan font-size="49" dy="30.5">2</tspan><tspan font-size="79.4" dy="-30.5">O</tspan><tspan font-size="49" dy="30.5">3</tspan></text>
<text x="1885.0" y="1982.8" font-size="80" text-anchor="start" >Ni@G</text>
<rect x="17" y="1724" width="15.5" height="4" fill="#dddddd"/>
</g>
</svg>
</body>
</html>
